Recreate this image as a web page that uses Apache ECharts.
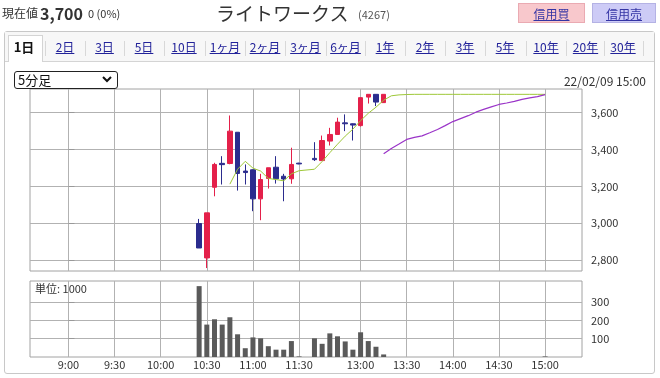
<!DOCTYPE html>
<html>
<head>
<meta charset="utf-8">
<script src="https://cdn.jsdelivr.net/npm/echarts@6/dist/echarts.min.js"></script>
<style>
  body { margin: 0; width: 660px; height: 378px; overflow: hidden; background: #fff; position: relative;
         font-family: "Noto Sans CJK JP", "Noto Sans", sans-serif; color: #333; }
  .abs { position: absolute; white-space: nowrap; }
  .panel { position: absolute; left: 4px; top: 31px; width: 651px; height: 343px; border: 1px solid #c8c8c8; border-radius: 3px; box-sizing: border-box; }
  .strip { position: absolute; left: 5px; top: 32px; width: 649px; height: 29px; background: #f7f7f7; border-bottom: 1px solid #d4d4d4; }
  .seltab { position: absolute; left: 8px; top: 35px; width: 35px; height: 27px; background: #fff; border: 1px solid #d4d4d4; border-bottom: none; box-sizing: border-box; }
  .tab { position: absolute; top: 38px; font-size: 12px; color: #23239a; text-decoration: underline; transform: translateX(-50%); white-space: nowrap; }
  .tab.on { color: #111; font-weight: bold; text-decoration: none; font-size: 13px; top: 37px; }
  .sep { position: absolute; top: 41px; width: 1px; height: 15px; background: #d8d8d8; }
  .btn { position: absolute; top: 3px; height: 20px; line-height: 20px; text-align: center; font-size: 12px; color: #3434a4; text-decoration: underline; box-sizing: border-box; }
  .sel { position: absolute; left: 14px; top: 71px; width: 104px; height: 18px; border: 1.5px solid #222; border-radius: 3px; box-sizing: border-box; background: #fff; font-size: 13px; line-height: 15px; padding-left: 3px; color: #111; }
  #chart { position: absolute; left: 0; top: 0; width: 660px; height: 378px; }
</style>
</head>
<body>
<div class="panel"></div>
<div class="strip"></div>
<div class="seltab"></div>
<div id="chart"></div>

<div class="abs" style="left:2px;top:4px;font-size:12px;">現在値</div>
<div class="abs" style="left:40px;top:1px;font-size:16px;font-weight:bold;">3,700</div>
<div class="abs" style="left:88px;top:5px;font-size:11px;">0 (0%)</div>
<div class="abs" style="left:216px;top:-1px;font-size:19px;color:#333;">ライトワークス</div>
<div class="abs" style="left:358px;top:6px;font-size:11px;color:#555;">(4267)</div>
<div class="btn" style="left:518px;width:67px;background:#f8c8cc;border:1px solid #eaaab2;">信用買</div>
<div class="btn" style="left:592px;width:64px;background:#cdcbf6;border:1px solid #b4b2e4;">信用売</div>

<div id="tabs"></div>

<div class="sel">5分足
  <svg width="10" height="7" style="position:absolute;right:5px;top:4px" viewBox="0 0 10 7"><polyline points="1,1 5,5 9,1" fill="none" stroke="#111" stroke-width="2"/></svg>
</div>
<div class="abs" style="right:14px;top:72px;font-size:12px;color:#333;">22/02/09 15:00</div>

<script>
// tabs across the top
const tabNames = ['1日', '2日', '3日', '5日', '10日', '1ヶ月', '2ヶ月', '3ヶ月', '6ヶ月', '1年', '2年', '3年', '5年', '10年', '20年', '30年'];
const tabCenters = [24, 65, 104.5, 144, 184, 225, 265, 305.5, 345.5, 385, 425, 465, 505, 546, 585.5, 623];

// 5-minute candles (yen)
const candleTimes = ['10:25', '10:30', '10:35', '10:40', '10:45', '10:50', '10:55', '11:00', '11:05', '11:10', '11:15', '11:20', '11:25', '11:30',
  '12:30', '12:35', '12:40', '12:45', '12:50', '12:55', '13:00', '13:05', '13:10', '13:15'];
const opens  = [2998, 2811, 3195, 3325, 3324, 3494, 3283, 3290, 3132, 3243, 3304, 3255, 3241, 3326, 3352, 3340, 3446, 3482, 3545, 3540, 3530, 3685, 3700, 3655];
const closes = [2865, 3056, 3319, 3318, 3500, 3270, 3275, 3132, 3237, 3301, 3241, 3240, 3319, 3322, 3345, 3449, 3482, 3549, 3540, 3533, 3682, 3700, 3658, 3700];
const lows   = [2865, 2756, 3146, 3210, 3320, 3177, 3210, 3065, 3016, 3188, 3215, 3119, 3214, 3320, 3338, 3340, 3422, 3482, 3500, 3449, 3525, 3650, 3636, 3655];
const highs  = [3023, 3056, 3328, 3364, 3585, 3494, 3319, 3292, 3268, 3301, 3364, 3268, 3410, 3328, 3440, 3476, 3518, 3573, 3591, 3542, 3682, 3700, 3700, 3700];

// volume (unit: 1000 shares)
const volTimes = candleTimes.concat(['15:00']);
const volumes = [387, 177, 206, 177, 217, 124, 48, 107, 102, 59, 40, 40, 87, 3, 102, 72, 129, 113, 85, 40, 135, 87, 56, 14, 3];

// short moving average (green)
const maShortTimes = ['10:45', '10:50', '10:55', '11:00', '11:05', '11:10', '11:15', '11:20', '11:25', '11:30',
  '12:30', '12:35', '12:40', '12:45', '12:50', '12:55', '13:00', '13:05', '13:10', '13:15', '13:20', '13:25', '13:30',
  '13:35', '13:40', '13:45', '13:50', '13:55', '14:00', '14:05', '14:10', '14:15', '14:20', '14:25', '14:30', '14:35', '14:40', '14:45', '14:50', '14:55', '15:00'];
const maShort = [3212, 3293, 3336, 3299, 3283, 3243, 3237, 3230, 3268, 3285,
  3293, 3335, 3383, 3429, 3473, 3511, 3557, 3597, 3630, 3668, 3692, 3697, 3699,
  3700, 3700, 3700, 3700, 3700, 3700, 3700, 3700, 3700, 3700, 3700, 3700, 3700, 3700, 3700, 3700, 3700, 3700];

// long moving average (purple)
const maLongTimes = ['13:15', '13:20', '13:25', '13:30', '13:35', '13:40', '13:45', '13:50', '13:55', '14:00', '14:05',
  '14:10', '14:15', '14:20', '14:25', '14:30', '14:35', '14:40', '14:45', '14:50', '14:55', '15:00'];
const maLong = [3377, 3406, 3430, 3455, 3466, 3474, 3491, 3509, 3530, 3552, 3568,
  3584, 3603, 3618, 3632, 3645, 3653, 3662, 3673, 3681, 3688, 3698];

// axis ticks
const timeTicks = ['9:00', '9:30', '10:00', '10:30', '11:00', '11:30', '13:00', '13:30', '14:00', '14:30', '15:00'];
const priceTicks = [2800, 3000, 3200, 3400, 3600];
const volTicks = [100, 200, 300];

let tabHtml = '';
tabNames.forEach((t, i) => {
  tabHtml += `<div class="tab${i === 0 ? ' on' : ''}" style="left:${tabCenters[i]}px">${t}</div>`;
  const next = i < tabCenters.length - 1 ? tabCenters[i + 1] : 662;
  tabHtml += `<div class="sep" style="left:${Math.round((tabCenters[i] + next) / 2)}px"></div>`;
});
document.getElementById('tabs').innerHTML = tabHtml;

// minutes from 9:00, with the lunch break squeezed to 10 minutes
function toAxis(t) {
  const [h, m] = t.split(':').map(Number);
  const mins = h * 60 + m - 540;
  return mins >= 210 ? mins - 50 : mins;
}

const tickValues = timeTicks.map(toAxis);
const candleData = candleTimes.map((t, i) => [toAxis(t), opens[i], closes[i], lows[i], highs[i]]);
const volData = volTimes.map((t, i) => [toAxis(t), volumes[i]]);
const maShortData = maShortTimes.map((t, i) => [toAxis(t), maShort[i]]);
const maLongData = maLongTimes.map((t, i) => [toAxis(t), maLong[i]]);

const font = '"Noto Sans CJK JP", "Noto Sans", sans-serif';
const gridLine = { lineStyle: { color: '#b2b2b2', width: 1 } };

function timeAxis(gridIndex, showLabels) {
  return {
    type: 'value', gridIndex, min: -25, max: 334,
    axisLine: { show: false },
    axisTick: { show: false, customValues: tickValues },
    axisLabel: {
      show: showLabels, customValues: tickValues, margin: 2,
      fontSize: 11, color: '#333', fontFamily: font,
      formatter: v => timeTicks[tickValues.indexOf(v)]
    },
    splitLine: Object.assign({ show: true }, gridLine)
  };
}

const myChart = echarts.init(document.getElementById('chart'));
myChart.setOption({
  animation: false,
  grid: [
    { left: 30, top: 89, width: 552, height: 182, show: true, borderColor: '#a2a2a2', borderWidth: 1, backgroundColor: '#fff', outerBoundsMode: 'none' },
    { left: 30, top: 281, width: 552, height: 76, show: true, borderColor: '#a2a2a2', borderWidth: 1, backgroundColor: '#fff', outerBoundsMode: 'none' }
  ],
  xAxis: [timeAxis(0, false), timeAxis(1, true)],
  yAxis: [
    {
      type: 'value', gridIndex: 0, position: 'right', min: 2740, max: 3729,
      axisLine: { show: false },
      axisTick: { show: true, length: 6, lineStyle: { color: '#999' }, customValues: priceTicks },
      axisLabel: { customValues: priceTicks, margin: 9, fontSize: 11, color: '#333', fontFamily: font,
        formatter: v => v.toLocaleString('en-US') },
      splitLine: gridLine
    },
    {
      type: 'value', gridIndex: 1, position: 'right', min: 0, max: 415,
      axisLine: { show: false },
      axisTick: { show: true, length: 6, lineStyle: { color: '#999' }, customValues: volTicks },
      axisLabel: { customValues: volTicks, margin: 9, fontSize: 11, color: '#333', fontFamily: font },
      splitLine: gridLine
    }
  ],
  graphic: [
    { type: 'text', left: 35, top: 283, style: { text: '単位: 1000', fontSize: 11, fill: '#333', fontFamily: font } }
  ],
  series: [
    {
      type: 'candlestick', xAxisIndex: 0, yAxisIndex: 0, barWidth: 5,
      data: candleData,
      itemStyle: { color: '#e4204a', color0: '#2b2c8e', borderColor: '#e4204a', borderColor0: '#2b2c8e', borderWidth: 1 }
    },
    {
      type: 'line', xAxisIndex: 0, yAxisIndex: 0, data: maShortData, symbol: 'none',
      lineStyle: { color: '#9ec838', width: 1 }
    },
    {
      type: 'line', xAxisIndex: 0, yAxisIndex: 0, data: maLongData, symbol: 'none',
      lineStyle: { color: '#9a34c8', width: 1.2 }
    },
    {
      type: 'bar', xAxisIndex: 1, yAxisIndex: 1, data: volData, barWidth: 5,
      itemStyle: { color: '#5a5a5a' }
    }
  ]
});
</script>
</body>
</html>
